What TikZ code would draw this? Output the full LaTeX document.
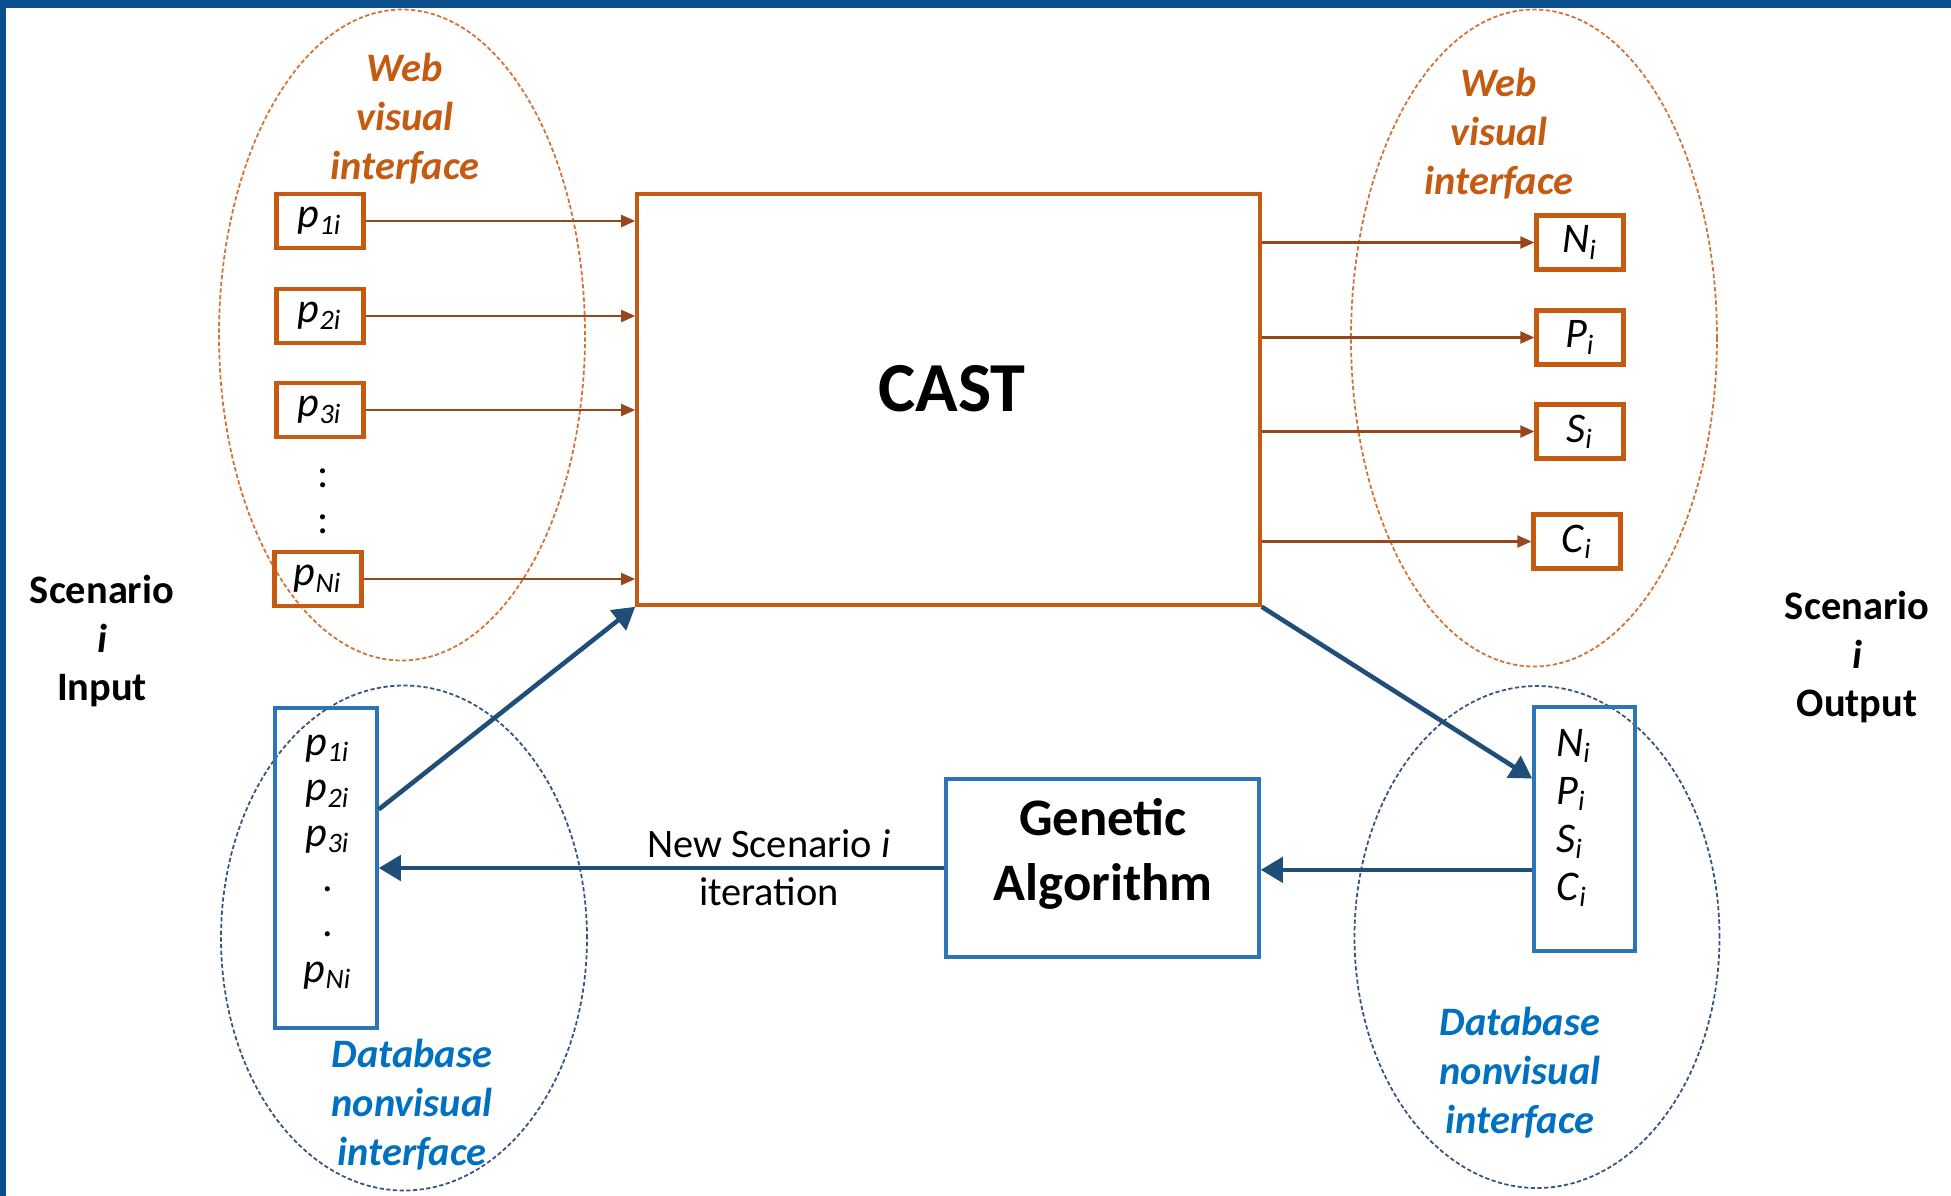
\documentclass[tikz,border=0pt]{standalone}
\usepackage{fontspec}
\setmainfont{Carlito}
\usetikzlibrary{arrows.meta,shapes.geometric,positioning}
\definecolor{framecol}{RGB}{11,80,140}
\definecolor{castorange}{RGB}{197,90,17}
\definecolor{ringorange}{RGB}{212,112,52}
\definecolor{arrowbrown}{RGB}{150,72,28}
\definecolor{boxblue}{RGB}{46,117,182}
\definecolor{loopblue}{RGB}{31,78,121}
\definecolor{ringblue}{RGB}{52,84,124}
\definecolor{textblue}{RGB}{0,112,192}
\newcommand{\vsub}[2]{\textit{#1}\textsubscript{\textit{#2}}}
\tikzstyle{webring}=[draw=ringorange,ellipse,line width=0.5pt,dash pattern=on 1.2pt off 0.7pt]
\tikzstyle{dbring}=[draw=ringblue,ellipse,line width=0.5pt,dash pattern=on 1.2pt off 0.7pt]
\tikzstyle{webbox}=[draw=castorange,line width=1.2pt,minimum width=8.7mm,minimum height=5.4mm,inner sep=0pt,font=\fontsize{12}{14}\selectfont]
\tikzstyle{castbox}=[draw=castorange,line width=1pt,inner sep=0pt]
\tikzstyle{dbbox}=[draw=boxblue,line width=1pt,inner sep=0pt]
\tikzstyle{dblist}=[inner sep=0pt,font=\fontsize{12}{12.9}\selectfont]
\tikzstyle{webtext}=[text=castorange,font=\fontsize{11.5}{13.9}\selectfont\bfseries\itshape,align=center]
\tikzstyle{dbtext}=[text=textblue,font=\fontsize{11.5}{13.9}\selectfont\bfseries\itshape,align=center]
\tikzstyle{scentext}=[font=\fontsize{11.5}{13.9}\selectfont\bfseries,align=center]
\tikzstyle{webarrow}=[draw=arrowbrown,line width=0.6pt,-{Triangle[length=1.4mm,width=1.2mm]}]
\tikzstyle{looparrow}=[draw=loopblue,line width=1.3pt,-{Triangle[length=2.2mm,width=2.5mm]}]
\begin{document}
\begin{tikzpicture}[x=0.1mm,y=-0.1mm]
\useasboundingbox (0,0) rectangle (1951,1196);
% frame
\fill[framecol] (0,0) rectangle (1951,8);
\fill[framecol] (0,0) rectangle (6,1196);

% interface rings
\node[webring,minimum width=36.6mm,minimum height=65.1mm] (webin) at (402,335) {};
\node[webring,minimum width=36.6mm,minimum height=65.7mm] (webout) at (1534,338) {};
\node[dbring,minimum width=36.6mm,minimum height=50.5mm] (dbinring) at (404,938) {};
\node[dbring,minimum width=36.5mm,minimum height=50.2mm] (dboutring) at (1537,937) {};
\node[webtext] (webinlabel) at (405,119) {Web\\visual\\interface};
\node[webtext] (weboutlabel) at (1499,134) {Web\\visual\\interface};
\node[dbtext] (dbinlabel) at (412,1105) {Database\\nonvisual\\interface};
\node[dbtext] (dboutlabel) at (1520,1073) {Database\\nonvisual\\interface};

% scenario labels
\node[scentext] (scenin) at (102,641) {Scenario\\\textit{i}\\Input};
\node[scentext] (scenout) at (1857,657) {Scenario\\\textit{i}\\Output};

% CAST
\node[castbox,minimum width=62.3mm,minimum height=41.1mm] (cast) at (948.5,399.5) {};
\node[font=\fontsize{20}{24}\selectfont\bfseries] (casttext) at (952,389) {CAST};

% web inputs
\node[webbox] (p1) at (320,221) {\vsub{p}{1i}};
\node[webbox] (p2) at (320,316) {\vsub{p}{2i}};
\node[webbox] (p3) at (320,410) {\vsub{p}{3i}};
\node[font=\fontsize{12}{14}\selectfont] (dotsa) at (323,478) {:};
\node[font=\fontsize{12}{14}\selectfont] (dotsb) at (323,524) {:};
\node[webbox] (pN) at (318,579) {\vsub{p}{Ni}};
\draw[webarrow] (p1) -- (p1 -| cast.west);
\draw[webarrow] (p2) -- (p2 -| cast.west);
\draw[webarrow] (p3) -- (p3 -| cast.west);
\draw[webarrow] (pN) -- (pN -| cast.west);

% web outputs
\node[webbox] (ni) at (1580,242.5) {\vsub{N}{i}};
\node[webbox] (pi) at (1580,337.5) {\vsub{P}{i}};
\node[webbox] (si) at (1580,431.5) {\vsub{S}{i}};
\node[webbox] (ci) at (1577,541.5) {\vsub{C}{i}};
\draw[webarrow] (cast.east |- ni) -- (ni);
\draw[webarrow] (cast.east |- pi) -- (pi);
\draw[webarrow] (cast.east |- si) -- (si);
\draw[webarrow] (cast.east |- ci) -- (ci);

% database side
\node[dbbox,minimum width=10.2mm,minimum height=32mm] (dbin) at (326,868) {};
\node[dblist,align=center] (dbinlist) at (328,862) {\vsub{p}{1i}\\\vsub{p}{2i}\\\vsub{p}{3i}\\.\\.\\\vsub{p}{Ni}};
\node[dbbox,minimum width=10.1mm,minimum height=24.4mm] (dbout) at (1584.5,829) {};
\node[dblist,align=left,font=\fontsize{12}{13.7}\selectfont] (dboutlist) at (1574,818) {\vsub{N}{i}\\\vsub{P}{i}\\\vsub{S}{i}\\\vsub{C}{i}};
\node[dbbox,minimum width=31.3mm,minimum height=17.8mm] (ga) at (1102.5,868) {};
\node[font=\fontsize{15}{18.5}\selectfont\bfseries,align=center] (gatext) at (1103,854) {Genetic\\Algorithm};

% optimisation loop
\draw[looparrow] (dbin.48) -- (cast.south west);
\draw[looparrow] (cast.south east) -- (dbout.136);
\draw[looparrow] (dbout.218) -- (dbout.218 -| ga.east);
\draw[looparrow] (ga.west) -- node[pos=0.31,align=center,font=\fontsize{11.5}{13.7}\selectfont] (newlabel) {New Scenario \textit{i}\\iteration} (dbin.east);
\end{tikzpicture}
\end{document}
